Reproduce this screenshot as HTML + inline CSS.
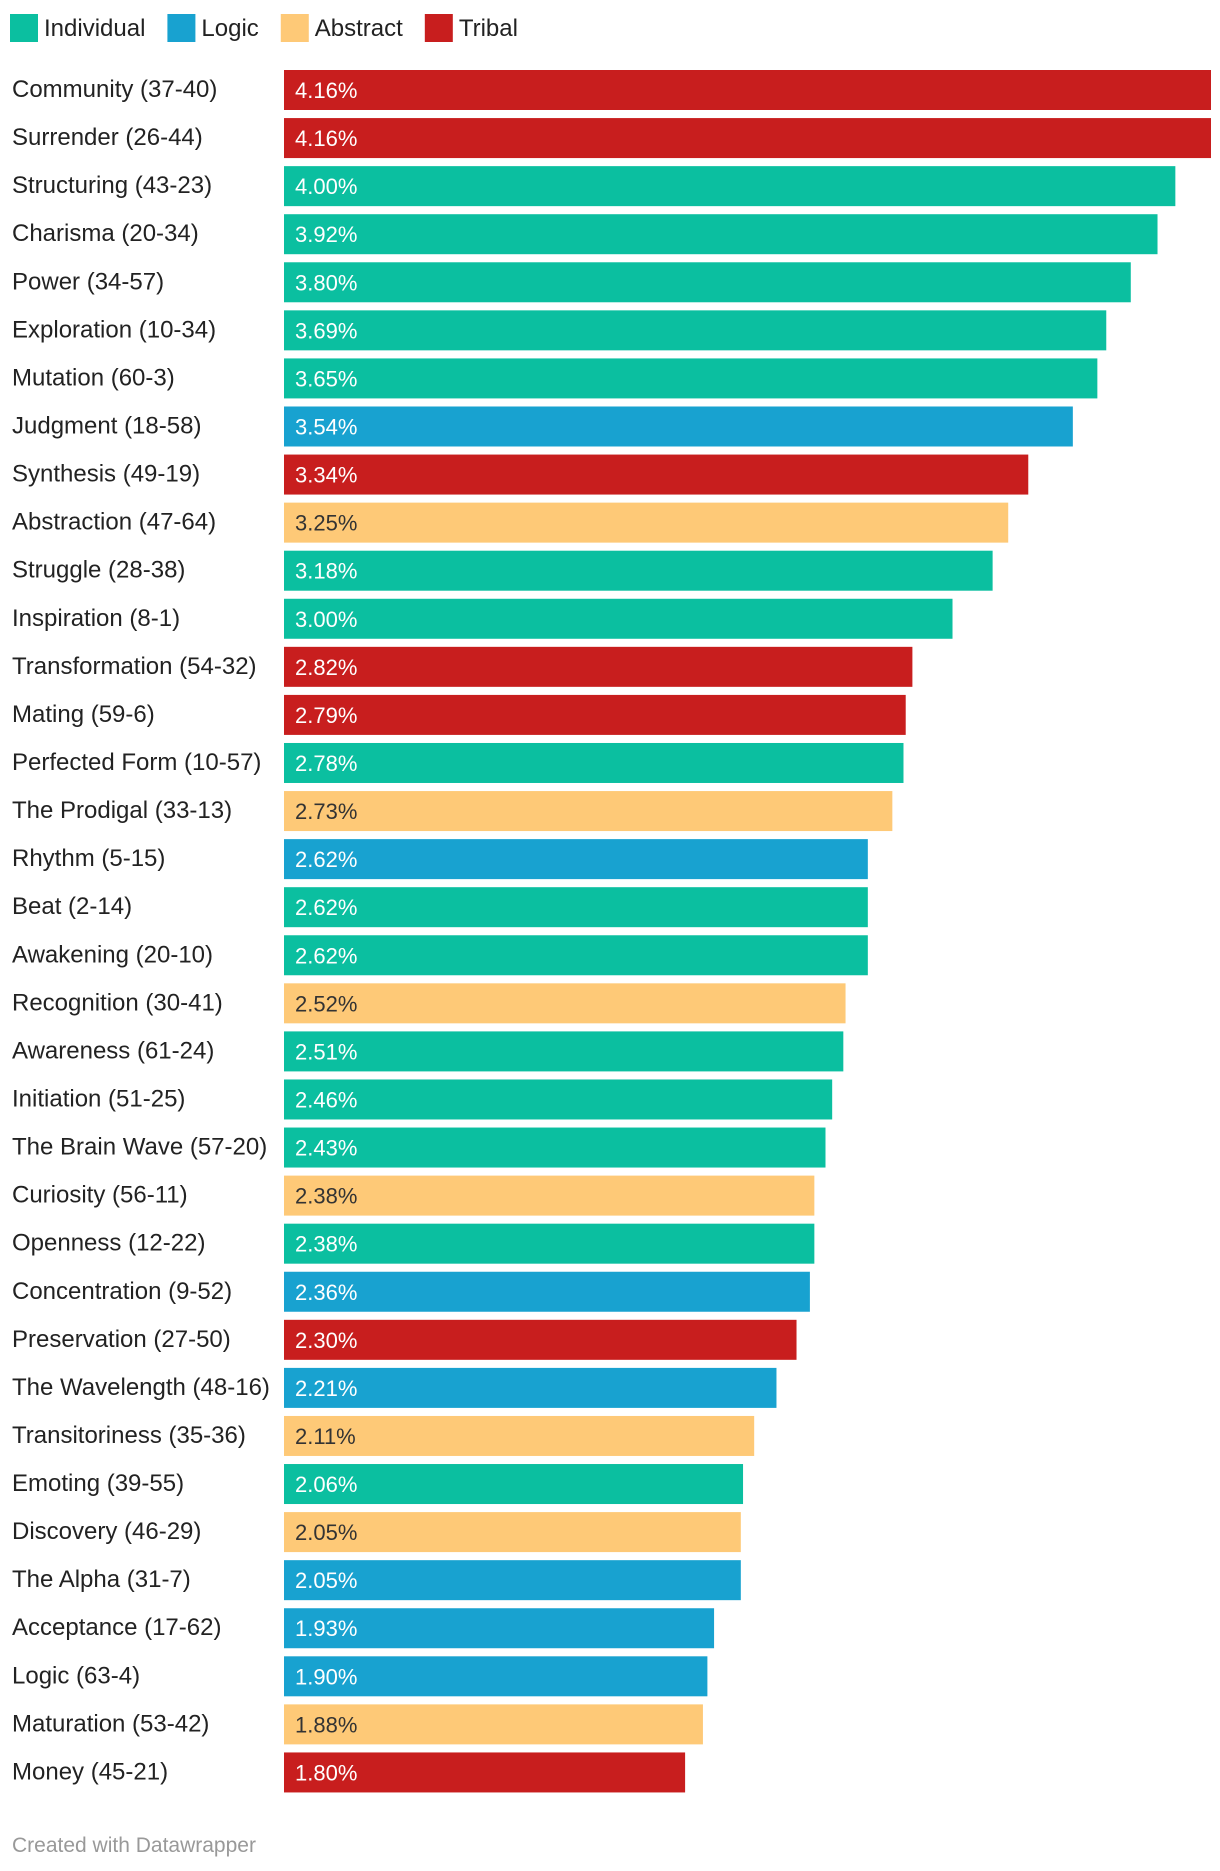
<!DOCTYPE html>
<html><head><meta charset="utf-8">
<style>
body{margin:0;background:#fff;width:1220px;height:1866px;overflow:hidden;font-family:"Liberation Sans",sans-serif;}
svg text{font-family:"Liberation Sans",sans-serif;}
</style></head>
<body>
<svg id="chart" width="1220" height="1866" xmlns="http://www.w3.org/2000/svg">
<g id="legend"></g>
<g id="bars"></g>
<text x="12" y="1852" font-size="21" fill="#999">Created with Datawrapper</text>
</svg>
<script>
const categories=["Community (37-40)","Surrender (26-44)","Structuring (43-23)","Charisma (20-34)","Power (34-57)","Exploration (10-34)","Mutation (60-3)","Judgment (18-58)","Synthesis (49-19)","Abstraction (47-64)","Struggle (28-38)","Inspiration (8-1)","Transformation (54-32)","Mating (59-6)","Perfected Form (10-57)","The Prodigal (33-13)","Rhythm (5-15)","Beat (2-14)","Awakening (20-10)","Recognition (30-41)","Awareness (61-24)","Initiation (51-25)","The Brain Wave (57-20)","Curiosity (56-11)","Openness (12-22)","Concentration (9-52)","Preservation (27-50)","The Wavelength (48-16)","Transitoriness (35-36)","Emoting (39-55)","Discovery (46-29)","The Alpha (31-7)","Acceptance (17-62)","Logic (63-4)","Maturation (53-42)","Money (45-21)"];
const values=[4.16,4.16,4.00,3.92,3.80,3.69,3.65,3.54,3.34,3.25,3.18,3.00,2.82,2.79,2.78,2.73,2.62,2.62,2.62,2.52,2.51,2.46,2.43,2.38,2.38,2.36,2.30,2.21,2.11,2.06,2.05,2.05,1.93,1.90,1.88,1.80];
const groups=["T","T","I","I","I","I","I","L","T","A","I","I","T","T","I","A","L","I","I","A","I","I","I","A","I","L","T","L","A","I","A","L","L","L","A","T"];
const legendLabels=["Individual","Logic","Abstract","Tribal"];
const legendKeys=["I","L","A","T"];
const colors={I:"#0bbfa0",L:"#18a2d0",A:"#fec977",T:"#c81e1e"};
const NS="http://www.w3.org/2000/svg";
const x0=284, xMax=4.16, wMax=927;
function xScale(v){return v/xMax*wMax;}
function yScale(i){return 70+i*48.07;}
const bars=document.getElementById('bars');
categories.forEach((c,i)=>{
  const y=yScale(i);
  const t=document.createElementNS(NS,'text');
  
  
  t.setAttribute('x',12);t.setAttribute('y',y+27);t.setAttribute('font-size','24');t.setAttribute('fill','#222');
  t.textContent=c;bars.appendChild(t);
  const r=document.createElementNS(NS,'rect');
  
  
  r.setAttribute('x',x0);r.setAttribute('y',y);r.setAttribute('width',xScale(values[i]));r.setAttribute('height',40);
  r.setAttribute('fill',colors[groups[i]]);bars.appendChild(r);
  const v=document.createElementNS(NS,'text');
  
  
  v.setAttribute('x',295);v.setAttribute('y',y+28);v.setAttribute('font-size','22');
  v.setAttribute('fill',groups[i]==="A"?"#333":"#fff");
  v.textContent=values[i].toFixed(2)+"%";bars.appendChild(v);
});
const lg=document.getElementById('legend');
let lx=10;
legendLabels.forEach((l,i)=>{
  const r=document.createElementNS(NS,'rect');
  
  
  r.setAttribute('x',lx);r.setAttribute('y',14);r.setAttribute('width',28);r.setAttribute('height',28);
  r.setAttribute('fill',colors[legendKeys[i]]);lg.appendChild(r);
  const t=document.createElementNS(NS,'text');
  
  
  t.setAttribute('x',lx+34);t.setAttribute('y',36);t.setAttribute('font-size','24');t.setAttribute('fill','#222');
  t.textContent=l;lg.appendChild(t);
  lx+=34+t.getComputedTextLength()+22;
});
</script>
</body></html>
